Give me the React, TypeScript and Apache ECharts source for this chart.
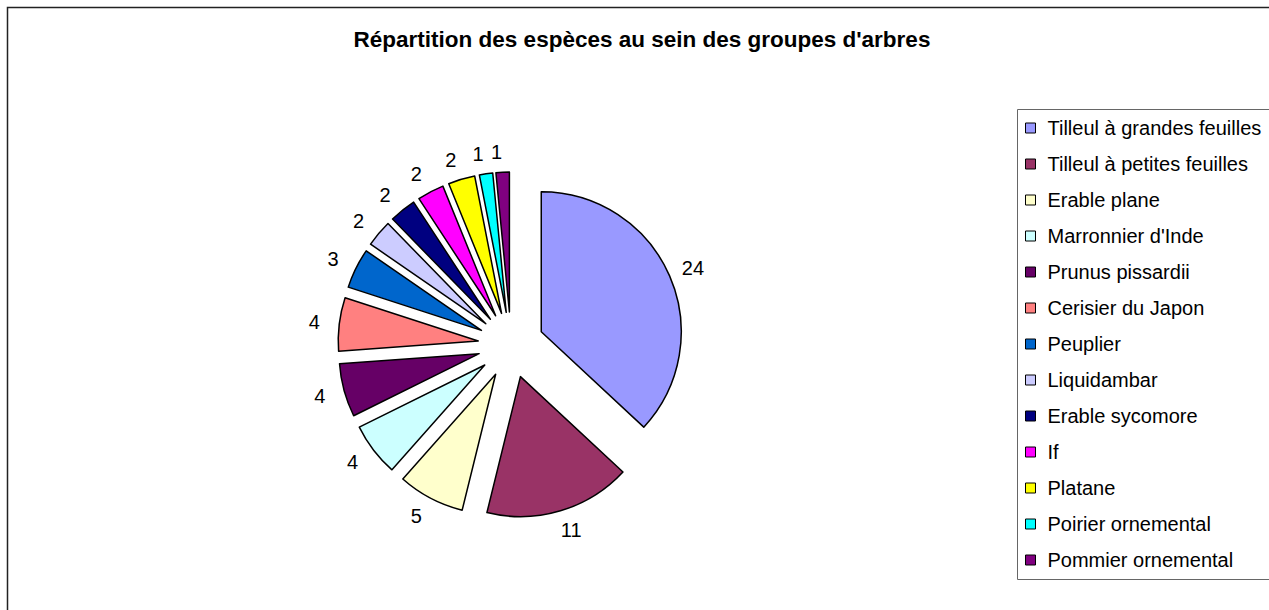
import React, { useEffect, useRef } from "react";
import * as echarts from "echarts";

const categories = [
  "Tilleul à grandes feuilles",
  "Tilleul à petites feuilles",
  "Erable plane",
  "Marronnier d'Inde",
  "Prunus pissardii",
  "Cerisier du Japon",
  "Peuplier",
  "Liquidambar",
  "Erable sycomore",
  "If",
  "Platane",
  "Poirier ornemental",
  "Pommier ornemental",
];
const values = [24, 11, 5, 4, 4, 4, 3, 2, 2, 2, 2, 1, 1];
const colors = [
  "#9999FF", "#993366", "#FFFFCC", "#CCFFFF", "#660066", "#FF8080",
  "#0066CC", "#CCCCFF", "#000080", "#FF00FF", "#FFFF00", "#00FFFF", "#800080",
];
const title = "Répartition des espèces au sein des groupes d'arbres";

const FONT = "'Liberation Sans', Arial, sans-serif";

const CX = 511;
const CY = 345;
const R = 140;
const OFFSET = 33;
const LABEL_DIST = 163;

export default function App() {
  const ref = useRef<HTMLDivElement>(null);
  useEffect(() => {
    if (!ref.current) return;
    const chart = echarts.init(ref.current, undefined, { renderer: "svg" });
    const total = values.reduce((a, b) => a + b, 0);
    const midAngles: number[] = [];
    let acc = 0;
    values.forEach((v) => {
      midAngles.push(((acc + v / 2) / total) * Math.PI * 2);
      acc += v;
    });
    chart.setOption({
      animation: false,
      color: colors,
      graphic: [
        {
          type: "rect",
          shape: { x: 7.5, y: 7.5, width: 1300, height: 700 },
          style: { fill: "none", stroke: "#222", lineWidth: 1.5 },
          silent: true,
        },
        {
          type: "rect",
          shape: { x: 1017.5, y: 109.5, width: 300, height: 470 },
          style: { fill: "none", stroke: "#666", lineWidth: 1 },
          silent: true,
        },
        {
          type: "text",
          x: 642,
          y: 39,
          style: {
            text: title,
            font: `bold 22.5px ${FONT}`,
            fill: "#000",
            textAlign: "center",
            textVerticalAlign: "middle",
          },
          silent: true,
        },
      ],
      legend: {
        orient: "vertical",
        left: 1025,
        top: 118,
        padding: 0,
        itemWidth: 10,
        itemHeight: 10,
        itemGap: 16,
        icon: "rect",
        selectedMode: false,
        itemStyle: { borderColor: "#000", borderWidth: 1 },
        textStyle: {
          fontFamily: FONT,
          fontSize: 20,
          color: "#000",
          padding: [0, 0, 0, 7],
        },
        data: categories,
      },
      series: [
        {
          type: "pie",
          center: [CX, CY],
          radius: R,
          startAngle: 90,
          clockwise: true,
          avoidLabelOverlap: false,
          selectedMode: "multiple",
          selectedOffset: OFFSET,
          emphasis: { disabled: true },
          itemStyle: { borderColor: "#000", borderWidth: 1.5 },
          label: {
            show: true,
            position: "outside",
            formatter: "{c}",
            fontFamily: FONT,
            fontSize: 20,
            color: "#000",
          },
          labelLine: { show: false, length: 20, length2: 0 },
          labelLayout: (params: any) => {
            const a = midAngles[params.dataIndex];
            const d = OFFSET + LABEL_DIST;
            return {
              x: CX + d * Math.sin(a),
              y: CY - d * Math.cos(a),
              align: "center",
              verticalAlign: "middle",
            };
          },
          data: categories.map((name, i) => ({
            name,
            value: values[i],
            selected: true,
          })),
        },
      ],
    });
    return () => chart.dispose();
  }, []);
  return (
    <div
      ref={ref}
      style={{ position: "absolute", left: 0, top: 0, width: 1269, height: 610, background: "#fff" }}
    />
  );
}
